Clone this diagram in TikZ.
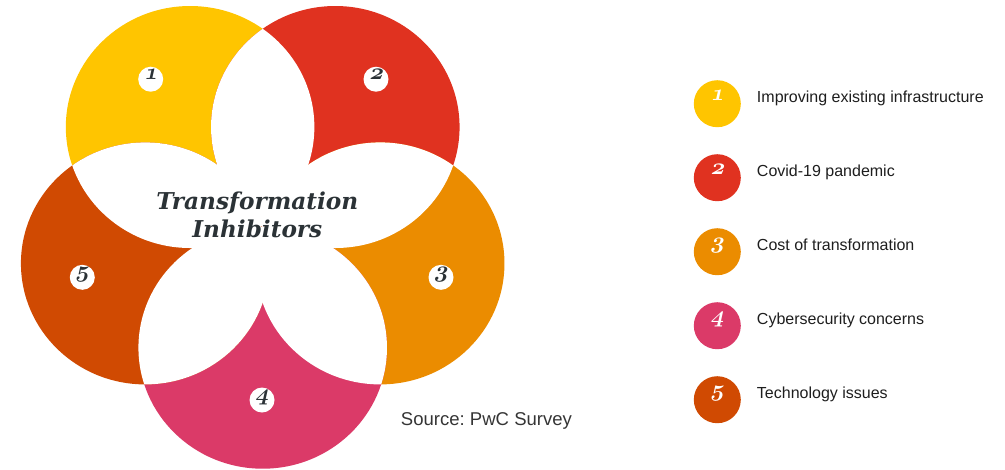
\documentclass[tikz,border=0pt]{standalone}
\usepackage{fontspec}
\setmainfont{Liberation Sans}
\newfontfamily\titlefont{DejaVu Serif}
\frenchspacing
\newcommand\osdigit[1]{{\usefont{OML}{cmm}{b}{it}#1}}
\definecolor{cyel}{HTML}{FFC500}
\definecolor{cred}{HTML}{E03220}
\definecolor{corg}{HTML}{EB8C00}
\definecolor{cpink}{HTML}{DB3A68}
\definecolor{cdor}{HTML}{D04A02}
\definecolor{titlecol}{HTML}{2B3236}
\definecolor{txt}{HTML}{1E1E1E}
\tikzset{
  petal/.style={x radius=93.2pt, y radius=90.75pt},
  badge/.style={circle, fill=white, minimum size=18.75pt, inner sep=0pt},
  badgenum/.style={anchor=base, inner sep=0pt, xslant=0.22, transform shape, font=\fontsize{16.5}{16}\selectfont, text=titlecol},
  legdot/.style={circle, minimum size=35.25pt, inner sep=0pt},
  legnum/.style={anchor=base, inner sep=0pt, xslant=0.22, transform shape, font=\fontsize{18}{18}\selectfont, text=white},
  legtext/.style={anchor=base west, inner sep=0pt, font=\fontsize{12}{14}\selectfont, text=txt},
  titletext/.style={anchor=base, inner sep=0pt, font=\titlefont\bfseries\itshape\fontsize{17.4}{19}\selectfont, text=titlecol}
}
\begin{document}
\begin{tikzpicture}[x=0.75pt, y=-0.75pt]
\useasboundingbox (0,0) rectangle (1005,469);
\coordinate (c1) at (190.1,127.0);
\coordinate (c2) at (335.3,127.0);
\coordinate (c3) at (380.2,263.4);
\coordinate (c4) at (262.7,347.7);
\coordinate (c5) at (145.2,263.4);
% coloured petals
\fill[cyel] (c1) ellipse [petal];
\fill[cred] (c2) ellipse [petal];
\fill[corg] (c3) ellipse [petal];
\fill[cpink] (c4) ellipse [petal];
\fill[cdor] (c5) ellipse [petal];
% overlaps become white
\foreach \i/\j in {1/2,1/3,1/4,1/5,2/3,2/4,2/5,3/4,3/5,4/5}{
  \begin{scope}
    \clip (c\i) ellipse [petal];
    \fill[white] (c\j) ellipse [petal];
  \end{scope}
}
% title
\node[titletext] (title1) at (257.3,209.3) {Transformation};
\node[titletext] (title2) at (257.3,237.7) {Inhibitors};
% badges
\node[badge] (b1) at (150.7,79.2) {};
\node[badge] (b2) at (376.0,79.2) {};
\node[badge] (b3) at (441.0,277.3) {};
\node[badge] (b4) at (262.0,400.0) {};
\node[badge] (b5) at (82.3,277.3) {};
\node[badgenum] (n1) at ([yshift=-0.2pt]b1.center) {\osdigit{1}};
\node[badgenum] (n2) at ([yshift=-0.2pt]b2.center) {\osdigit{2}};
\node[badgenum] (n3) at ([yshift=-0.2pt]b3.center) {\osdigit{3}};
\node[badgenum] (n4) at ([yshift=-0.2pt]b4.center) {\osdigit{4}};
\node[badgenum] (n5) at ([yshift=-0.2pt]b5.center) {\osdigit{5}};
% source
\node[anchor=base west, inner sep=0pt, font=\fontsize{13.9}{16}\selectfont, text=txt!90] (src) at (400.7,425.5) {Source: PwC Survey};
% legend
\foreach \k/\col/\yy/\lab in {1/cyel/103.7/Improving existing infrastructure,
                              2/cred/177.7/Covid-19 pandemic,
                              3/corg/251.7/Cost of transformation,
                              4/cpink/325.7/Cybersecurity concerns,
                              5/cdor/399.7/Technology issues}{
  \node[legdot, fill=\col] (l\k) at (717.3,\yy) {};
  \node[legnum] (ln\k) at ([yshift=2.7pt]l\k.center) {\osdigit{\k}};
  \node[legtext] (lt\k) at (756.7,\yy-1) {\lab};
}
\end{tikzpicture}
\end{document}
